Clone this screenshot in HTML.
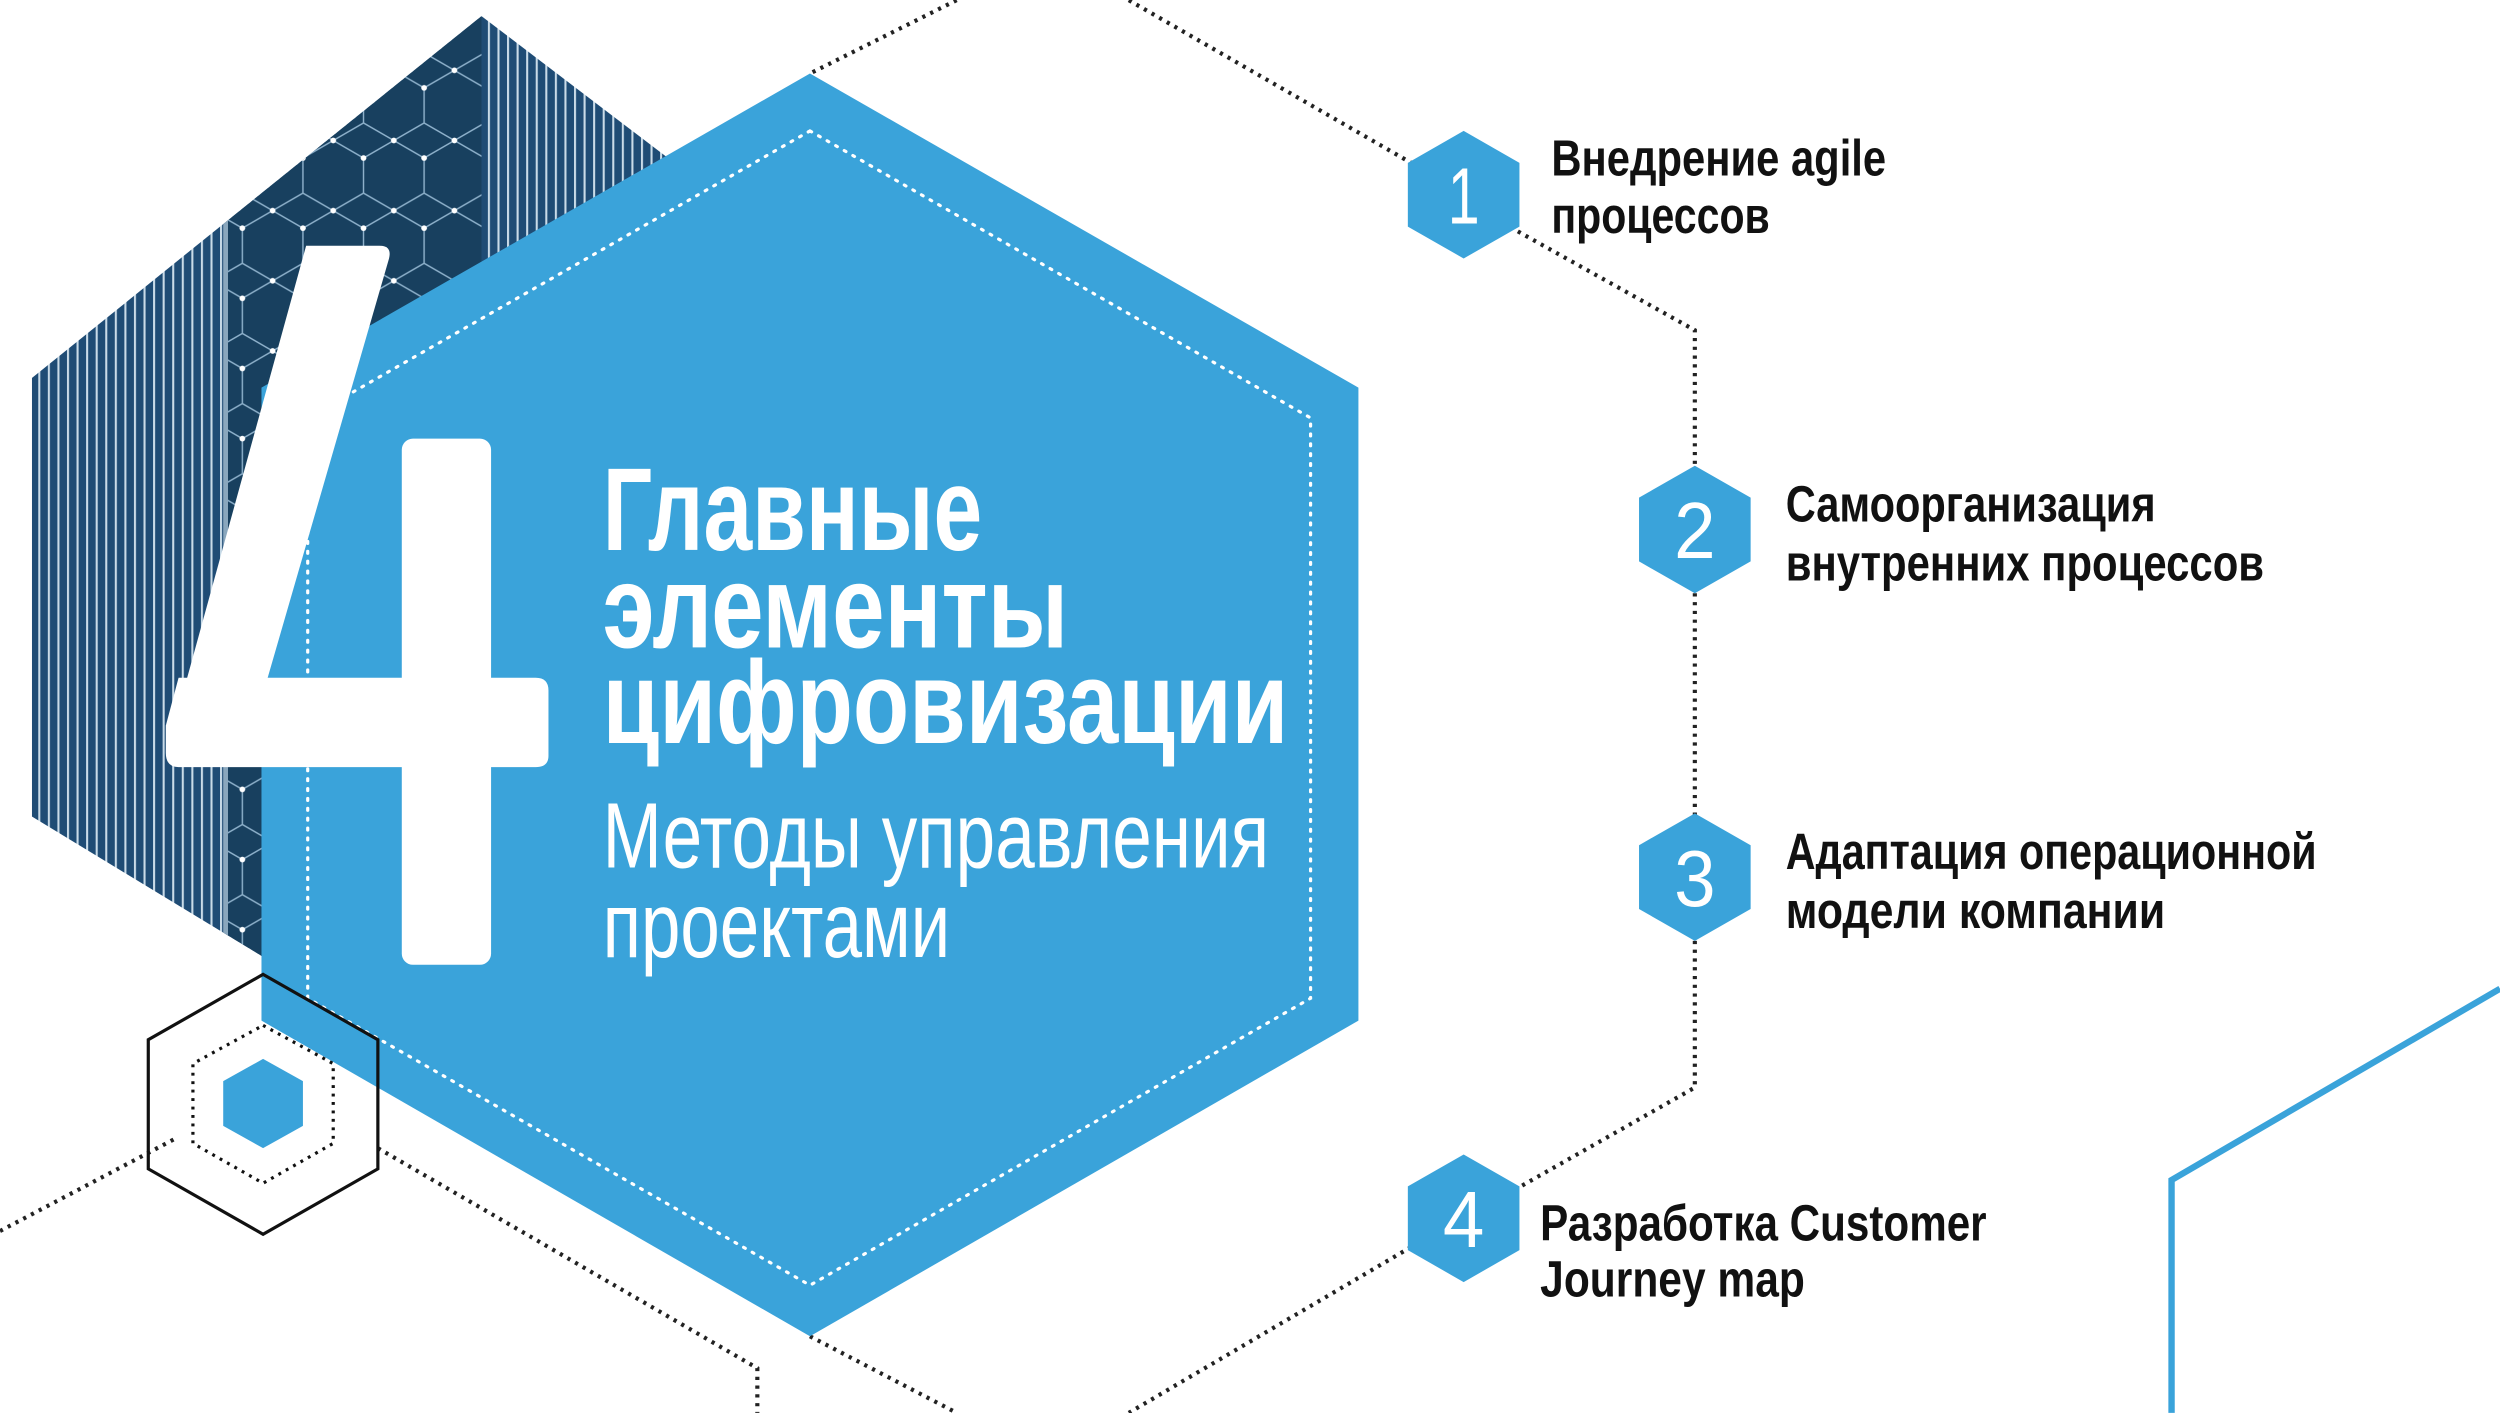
<!DOCTYPE html>
<html><head><meta charset="utf-8"><style>
html,body{margin:0;padding:0;background:#fff;}
svg{display:block;}
text{font-family:"Liberation Sans",sans-serif;}
</style></head><body>
<svg width="2500" height="1413" viewBox="0 0 1568 886" xmlns="http://www.w3.org/2000/svg">
<defs>
<pattern id="stripes" width="6" height="10" patternUnits="userSpaceOnUse">
<rect width="6" height="10" fill="#1f4c75"/>
<rect x="0" width="1.3" height="10" fill="#c9dbe8"/>
</pattern>
<pattern id="hexlit" width="38" height="44" patternUnits="userSpaceOnUse">
<rect width="38" height="44" fill="#18405f"/>
<path d="M0 11 L19 0 L38 11 M0 11 L0 33 M38 11 L38 33 M0 33 L19 44 L38 33" stroke="#8fb2cc" stroke-width="0.9" fill="none"/>
<circle cx="0" cy="11" r="1.8" fill="#fff"/><circle cx="38" cy="11" r="1.8" fill="#fff"/><circle cx="19" cy="0" r="1.8" fill="#fff"/><circle cx="19" cy="44" r="1.8" fill="#fff"/>
</pattern>
<clipPath id="bclip"><polygon points="302,10 440,115 440,600 165,600 20,512 20,237"/></clipPath>
</defs>

<g stroke="#222" stroke-width="2.6" stroke-dasharray="2 3.5" fill="none">
<line x1="600" y1="0" x2="508" y2="46"/>
<line x1="708" y1="0" x2="885" y2="102"/>
<polyline points="952,145 1063,207 1063,293"/>
<line x1="1063" y1="372" x2="1063" y2="512"/>
<polyline points="1063,590 1063,682 952,745"/>
<line x1="885" y1="782" x2="708" y2="886"/>
<line x1="508" y1="838" x2="600" y2="886"/>
<line x1="0" y1="772" x2="110" y2="714"/>
<polyline points="237,720 475,858 475,886"/>
</g>

<g clip-path="url(#bclip)">
<rect x="0" y="0" width="460" height="620" fill="url(#stripes)"/>
<rect x="142" y="0" width="160" height="620" fill="url(#hexlit)"/>
<rect x="140" y="0" width="3" height="620" fill="#8aa7bd"/>
</g>

<polygon points="508,46 852,243 852,640 508,838 164,640 164,243" fill="#3aa3da"/>
<polygon points="508,82 822,262 822,626 508,806 193,626 193,262" fill="none" stroke="#fff" stroke-width="2" stroke-dasharray="1.2 5" stroke-linecap="round"/>

<g fill="#fff">
<path d="M192,154 L238,154 Q246,154 244,162 L167,428 L105,470 Z"/>
<path d="M112,425 L336,425 Q344,425 344,433 L344,474 Q344,481 336,481 L112,481 Q104,481 104,472 L104,455 Z"/>
<rect x="252" y="275" width="56" height="330" rx="7"/>
</g>

<polygon points="165,611 237,652 237,733 165,774 93,733 93,652" fill="none" stroke="#111" stroke-width="2"/>
<polygon points="165,643 209,667 209,717 165,742 121,717 121,667" fill="none" stroke="#111" stroke-width="2" stroke-dasharray="1.8 3.5"/>
<polygon points="165,664 190,678 190,706 165,720 140,706 140,678" fill="#3aa3da"/>

<g fill="#fff">
<text x="378" y="345" font-size="74" font-weight="bold" textLength="238" lengthAdjust="spacingAndGlyphs">Главные</text>
<text x="378" y="406" font-size="74" font-weight="bold" textLength="292" lengthAdjust="spacingAndGlyphs">элементы</text>
<text x="378" y="466" font-size="74" font-weight="bold" textLength="430" lengthAdjust="spacingAndGlyphs">цифровизации</text>
<text x="378" y="544" font-size="58" textLength="418" lengthAdjust="spacingAndGlyphs">Методы управления</text>
<text x="378" y="600" font-size="58" textLength="218" lengthAdjust="spacingAndGlyphs">проектами</text>
</g>

<g fill="#3aa3da">
<polygon points="918,82 953,102 953,142 918,162 883,142 883,102"/>
<polygon points="1063,292 1098,312 1098,352 1063,372 1028,352 1028,312"/>
<polygon points="1063,510 1098,530 1098,570 1063,590 1028,570 1028,530"/>
<polygon points="918,724 953,744 953,784 918,804 883,784 883,744"/>
</g>
<g fill="#fff" font-size="50" text-anchor="middle">
<text x="918" y="140" textLength="20" lengthAdjust="spacingAndGlyphs">1</text>
<text x="1063" y="350" textLength="26" lengthAdjust="spacingAndGlyphs">2</text>
<text x="1063" y="568" textLength="26" lengthAdjust="spacingAndGlyphs">3</text>
<text x="918" y="782" textLength="26" lengthAdjust="spacingAndGlyphs">4</text>
</g>

<g fill="#111" font-size="32" font-weight="bold">
<text x="973" y="110" textLength="210" lengthAdjust="spacingAndGlyphs">Внедрение agile</text>
<text x="973" y="146" textLength="137" lengthAdjust="spacingAndGlyphs">процессов</text>
<text x="1120" y="327" textLength="232" lengthAdjust="spacingAndGlyphs">Самоорганизация</text>
<text x="1120" y="364" textLength="300" lengthAdjust="spacingAndGlyphs">внутренних процессов</text>
<text x="1120" y="545" textLength="333" lengthAdjust="spacingAndGlyphs">Адаптация операционной</text>
<text x="1120" y="582" textLength="238" lengthAdjust="spacingAndGlyphs">модели компании</text>
<text x="966" y="778" textLength="280" lengthAdjust="spacingAndGlyphs">Разработка Customer</text>
<text x="966" y="813" textLength="166" lengthAdjust="spacingAndGlyphs">Journey map</text>
</g>

<polyline points="1568,620 1362,740 1362,886" fill="none" stroke="#3aa3da" stroke-width="4"/>
</svg>
</body></html>
